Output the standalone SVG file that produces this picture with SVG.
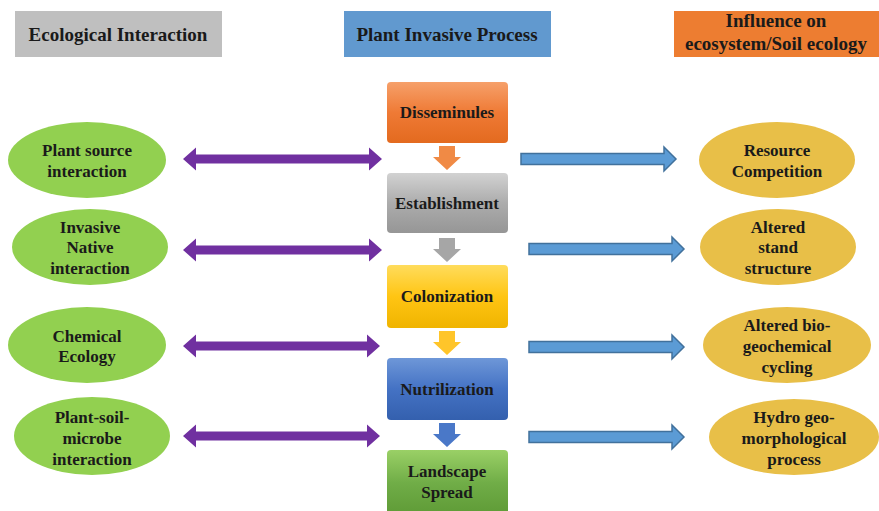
<svg xmlns="http://www.w3.org/2000/svg" width="879" height="511" viewBox="0 0 879 511">
  <style>
    text { font-family: "Liberation Serif", "Times New Roman", serif; font-weight: bold; fill: #1a1a1a; text-anchor: middle; }
    .hdr { font-size: 19px; }
    .lbl { font-size: 17px; }
    .green { fill: #92d050; }
    .gold { fill: #e8bf48; }
    .purple { fill: #7030a0; }
    .blue-arrow { fill: #5b9bd5; stroke: #41719c; stroke-width: 1.5; }
  </style>
  <defs>
    <linearGradient id="gOrange" x1="0" y1="0" x2="0" y2="1">
      <stop offset="0" stop-color="#f6a06a"/>
      <stop offset="0.5" stop-color="#ef7a35"/>
      <stop offset="1" stop-color="#e36a1f"/>
    </linearGradient>
    <linearGradient id="gGray" x1="0" y1="0" x2="0" y2="1">
      <stop offset="0" stop-color="#d2d2d2"/>
      <stop offset="0.5" stop-color="#acacac"/>
      <stop offset="1" stop-color="#969696"/>
    </linearGradient>
    <linearGradient id="gYellow" x1="0" y1="0" x2="0" y2="1">
      <stop offset="0" stop-color="#ffdc5c"/>
      <stop offset="0.5" stop-color="#ffc513"/>
      <stop offset="1" stop-color="#f0b400"/>
    </linearGradient>
    <linearGradient id="gBlue" x1="0" y1="0" x2="0" y2="1">
      <stop offset="0" stop-color="#6e97d8"/>
      <stop offset="0.5" stop-color="#4472c4"/>
      <stop offset="1" stop-color="#3460ae"/>
    </linearGradient>
    <linearGradient id="gGreen" x1="0" y1="0" x2="0" y2="1">
      <stop offset="0" stop-color="#9ad066"/>
      <stop offset="0.5" stop-color="#70ad47"/>
      <stop offset="1" stop-color="#5e9a36"/>
    </linearGradient>
    <!-- down arrow shape, top centre at origin -->
    <path id="downArrow" d="M-8,0 H8 V11 H14 L0,24 L-14,11 H-8 Z"/>
  </defs>

  <!-- column headers -->
  <g id="hdr-ecological">
    <rect x="15" y="11" width="207" height="46" fill="#bfbfbf"/>
    <text class="hdr" x="118" y="41">Ecological Interaction</text>
  </g>
  <g id="hdr-process">
    <rect x="344" y="11" width="207" height="46" fill="#6199cf"/>
    <text class="hdr" x="447" y="41">Plant Invasive Process</text>
  </g>
  <g id="hdr-influence">
    <rect x="674" y="11" width="205" height="46" fill="#ed7d31"/>
    <text class="hdr" x="776" y="27">Influence on</text>
    <text class="hdr" x="776" y="50">ecosystem/Soil ecology</text>
  </g>

  <!-- process chain -->
  <g id="disseminules">
    <rect x="387" y="82" width="121" height="61" rx="4" fill="url(#gOrange)"/>
    <text class="lbl" x="447" y="118">Disseminules</text>
  </g>
  <g id="establishment">
    <rect x="387" y="173" width="121" height="60" rx="4" fill="url(#gGray)"/>
    <text class="lbl" x="447" y="209">Establishment</text>
  </g>
  <g id="colonization">
    <rect x="387" y="265" width="121" height="63" rx="4" fill="url(#gYellow)"/>
    <text class="lbl" x="447" y="302">Colonization</text>
  </g>
  <g id="nutrilization">
    <rect x="387" y="358" width="121" height="62" rx="4" fill="url(#gBlue)"/>
    <text class="lbl" x="447" y="395">Nutrilization</text>
  </g>
  <g id="landscape-spread">
    <rect x="387" y="450" width="121" height="66" rx="4" fill="url(#gGreen)"/>
    <text class="lbl" x="447" y="477">Landscape</text>
    <text class="lbl" x="447" y="498">Spread</text>
  </g>

  <!-- ecological interaction nodes -->
  <g id="plant-source">
    <ellipse class="green" cx="87" cy="160" rx="79" ry="38"/>
    <text class="lbl" x="87" y="156">Plant source</text>
    <text class="lbl" x="87" y="177">interaction</text>
  </g>
  <g id="invasive-native">
    <ellipse class="green" cx="90" cy="247" rx="78" ry="38"/>
    <text class="lbl" x="90" y="233">Invasive</text>
    <text class="lbl" x="90" y="253">Native</text>
    <text class="lbl" x="90" y="274">interaction</text>
  </g>
  <g id="chemical-ecology">
    <ellipse class="green" cx="87" cy="345" rx="79" ry="38"/>
    <text class="lbl" x="87" y="342">Chemical</text>
    <text class="lbl" x="87" y="362">Ecology</text>
  </g>
  <g id="plant-soil-microbe">
    <ellipse class="green" cx="92" cy="436" rx="78" ry="39"/>
    <text class="lbl" x="92" y="423">Plant-soil-</text>
    <text class="lbl" x="92" y="444">microbe</text>
    <text class="lbl" x="92" y="465">interaction</text>
  </g>

  <!-- ecosystem influence nodes -->
  <g id="resource-competition">
    <ellipse class="gold" cx="777" cy="160" rx="78" ry="38"/>
    <text class="lbl" x="777" y="156">Resource</text>
    <text class="lbl" x="777" y="177">Competition</text>
  </g>
  <g id="altered-stand">
    <ellipse class="gold" cx="778" cy="247" rx="78" ry="38"/>
    <text class="lbl" x="778" y="233">Altered</text>
    <text class="lbl" x="778" y="253">stand</text>
    <text class="lbl" x="778" y="274">structure</text>
  </g>
  <g id="altered-biogeochemical">
    <ellipse class="gold" cx="787" cy="345" rx="84" ry="38"/>
    <text class="lbl" x="787" y="331">Altered bio-</text>
    <text class="lbl" x="787" y="352">geochemical</text>
    <text class="lbl" x="787" y="373">cycling</text>
  </g>
  <g id="hydro-geomorphological">
    <ellipse class="gold" cx="794" cy="437" rx="85" ry="38"/>
    <text class="lbl" x="794" y="423">Hydro geo-</text>
    <text class="lbl" x="794" y="444">morphological</text>
    <text class="lbl" x="794" y="465">process</text>
  </g>

  <!-- connectors -->
  <g id="connectors">
    <!-- flow arrows between process steps -->
    <use href="#downArrow" x="447" y="146" fill="#f08a45"/>
    <use href="#downArrow" x="447" y="238" fill="#a6a6a6"/>
    <use href="#downArrow" x="447" y="331" fill="#ffc52a"/>
    <use href="#downArrow" x="447" y="423" fill="#4a78c8"/>

    <!-- two-way links: ecological interaction <-> process -->
    <path class="purple" d="M183,159 L196,147.5 V154.5 H369 V147.5 L382,159 L369,170.5 V163.5 H196 V170.5 Z"/>
    <path class="purple" d="M183,250 L196,238.5 V245.5 H369 V238.5 L382,250 L369,261.5 V254.5 H196 V261.5 Z"/>
    <path class="purple" d="M183,346 L196,334.5 V341.5 H367 V334.5 L380,346 L367,357.5 V350.5 H196 V357.5 Z"/>
    <path class="purple" d="M183,436 L196,424.5 V431.5 H367 V424.5 L380,436 L367,447.5 V440.5 H196 V447.5 Z"/>

    <!-- one-way links: process -> ecosystem influence -->
    <path class="blue-arrow" d="M521,153.5 H664 V147 L676,159 L664,171 V164.5 H521 Z"/>
    <path class="blue-arrow" d="M529,243.5 H672 V237 L684,249 L672,261 V254.5 H529 Z"/>
    <path class="blue-arrow" d="M529,341.5 H672 V335 L684,347 L672,359 V352.5 H529 Z"/>
    <path class="blue-arrow" d="M529,431.5 H672 V425 L684,437 L672,449 V442.5 H529 Z"/>
  </g>
</svg>
